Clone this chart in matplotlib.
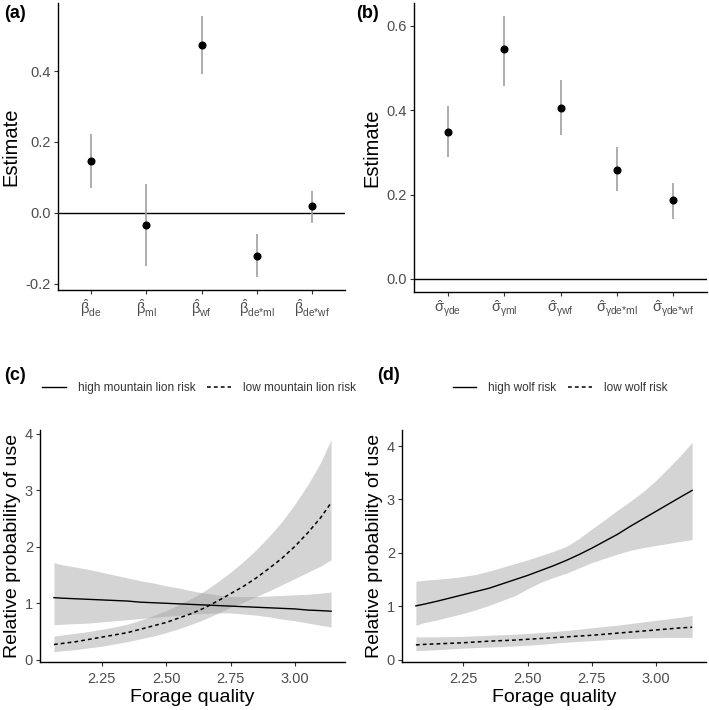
import numpy as np
import matplotlib
matplotlib.use('Agg')
import matplotlib.pyplot as plt
from matplotlib.lines import Line2D

plt.rcParams['font.family'] = ['Liberation Sans', 'DejaVu Sans']
plt.rcParams['mathtext.fontset'] = 'custom'
plt.rcParams['mathtext.rm'] = 'Liberation Sans'
plt.rcParams['mathtext.it'] = 'Liberation Sans:italic'
plt.rcParams['mathtext.bf'] = 'Liberation Sans:bold'

# ---- panel (a): fixed effects
beta_labels = [r'$\hat{\mathrm{β}}_{\mathrm{de}}$', r'$\hat{\mathrm{β}}_{\mathrm{ml}}$',
               r'$\hat{\mathrm{β}}_{\mathrm{wf}}$', r'$\hat{\mathrm{β}}_{\mathrm{de{*}ml}}$',
               r'$\hat{\mathrm{β}}_{\mathrm{de{*}wf}}$']
beta_est = [0.147, -0.035, 0.474, -0.122, 0.018]
beta_lo = [0.070, -0.150, 0.393, -0.181, -0.028]
beta_hi = [0.222, 0.082, 0.555, -0.060, 0.060]

# ---- panel (b): random effect SDs
sigma_labels = [r'$\hat{\mathrm{σ}}_{\mathrm{γde}}$', r'$\hat{\mathrm{σ}}_{\mathrm{γml}}$',
                r'$\hat{\mathrm{σ}}_{\mathrm{γwf}}$', r'$\hat{\mathrm{σ}}_{\mathrm{γde{*}ml}}$',
                r'$\hat{\mathrm{σ}}_{\mathrm{γde{*}wf}}$']
sigma_est = [0.348, 0.545, 0.405, 0.258, 0.186]
sigma_lo = [0.288, 0.458, 0.340, 0.208, 0.143]
sigma_hi = [0.409, 0.623, 0.471, 0.313, 0.227]

# ---- panels (c), (d): predicted relative probability of use
forage = [2.065, 2.10, 2.15, 2.20, 2.25, 2.30, 2.35, 2.40, 2.45, 2.50, 2.55, 2.60,
          2.65, 2.70, 2.75, 2.80, 2.85, 2.90, 2.95, 3.00, 3.05, 3.10, 3.14]

ml_high = [1.10, 1.09, 1.08, 1.07, 1.06, 1.05, 1.04, 1.02, 1.01, 1.00, 0.99, 0.98,
           0.97, 0.96, 0.95, 0.94, 0.93, 0.92, 0.91, 0.90, 0.88, 0.87, 0.86]
ml_high_lo = [0.62, 0.63, 0.64, 0.65, 0.67, 0.69, 0.71, 0.73, 0.75, 0.77, 0.79, 0.81,
              0.82, 0.83, 0.83, 0.81, 0.79, 0.76, 0.72, 0.69, 0.65, 0.61, 0.58]
ml_high_hi = [1.72, 1.68, 1.64, 1.60, 1.55, 1.50, 1.45, 1.40, 1.36, 1.31, 1.27, 1.22,
              1.18, 1.15, 1.12, 1.12, 1.12, 1.13, 1.14, 1.15, 1.16, 1.18, 1.20]
ml_low = [0.27, 0.29, 0.32, 0.36, 0.40, 0.44, 0.48, 0.54, 0.60, 0.66, 0.74, 0.82,
          0.92, 1.04, 1.17, 1.30, 1.45, 1.62, 1.80, 2.01, 2.25, 2.52, 2.78]
ml_low_lo = [0.14, 0.16, 0.18, 0.21, 0.24, 0.28, 0.32, 0.37, 0.42, 0.48, 0.55, 0.63,
             0.72, 0.82, 0.93, 1.02, 1.12, 1.22, 1.33, 1.44, 1.55, 1.66, 1.77]
ml_low_hi = [0.42, 0.44, 0.47, 0.50, 0.54, 0.58, 0.63, 0.70, 0.78, 0.87, 0.98, 1.09,
             1.22, 1.38, 1.55, 1.74, 1.95, 2.19, 2.45, 2.76, 3.10, 3.50, 3.90]

wf_high = [1.01, 1.045, 1.10, 1.16, 1.22, 1.28, 1.34, 1.42, 1.50, 1.58, 1.67, 1.76,
           1.86, 1.97, 2.09, 2.22, 2.35, 2.50, 2.64, 2.78, 2.92, 3.06, 3.17]
wf_high_lo = [0.65, 0.70, 0.75, 0.81, 0.87, 0.94, 1.02, 1.11, 1.20, 1.33, 1.45, 1.54,
              1.62, 1.72, 1.82, 1.90, 1.98, 2.05, 2.10, 2.14, 2.18, 2.22, 2.25]
wf_high_hi = [1.47, 1.49, 1.51, 1.53, 1.56, 1.60, 1.66, 1.73, 1.80, 1.87, 1.95, 2.03,
              2.12, 2.27, 2.45, 2.62, 2.80, 2.97, 3.15, 3.36, 3.60, 3.85, 4.07]
wf_low = [0.28, 0.29, 0.30, 0.31, 0.32, 0.335, 0.35, 0.36, 0.37, 0.385, 0.40, 0.415,
          0.43, 0.445, 0.46, 0.48, 0.50, 0.52, 0.54, 0.56, 0.58, 0.60, 0.61]
wf_low_lo = [0.17, 0.18, 0.19, 0.205, 0.22, 0.23, 0.24, 0.25, 0.26, 0.275, 0.29, 0.31,
             0.33, 0.345, 0.36, 0.375, 0.39, 0.40, 0.41, 0.415, 0.42, 0.42, 0.42]
wf_low_hi = [0.43, 0.43, 0.43, 0.435, 0.44, 0.45, 0.46, 0.47, 0.48, 0.495, 0.51, 0.53,
             0.55, 0.575, 0.60, 0.625, 0.65, 0.68, 0.71, 0.74, 0.77, 0.80, 0.83]

W, H = 709, 710
fig = plt.figure(figsize=(W / 100, H / 100), dpi=100)

def px_axes(left, top, right, bottom):
    return fig.add_axes([left / W, 1 - bottom / H, (right - left) / W, (bottom - top) / H])

def style(ax):
    for s in ['top', 'right']:
        ax.spines[s].set_visible(False)
    for s in ['left', 'bottom']:
        ax.spines[s].set_linewidth(1.0)
        ax.spines[s].set_color('black')
    ax.tick_params(direction='out', length=3, width=0.8, color='#333333',
                   labelcolor='#4d4d4d', labelsize=10.5, pad=2)

def coef_panel(ax, labels, est, lo, hi, ylim, yticks):
    pos = np.arange(1, len(labels) + 1)
    ax.axhline(0, color='black', linewidth=1.0, zorder=1)
    ax.vlines(pos, lo, hi, color='#a0a0a0', linewidth=1.2, zorder=2)
    ax.plot(pos, est, 'o', color='black', markersize=4.8, zorder=3)
    ax.set_xlim(0.4, len(labels) + 0.6)
    ax.set_ylim(*ylim)
    ax.set_yticks(yticks)
    ax.set_yticklabels(['%.1f' % t if t >= 0 else '-%.1f' % abs(t) for t in yticks])
    ax.set_xticks(pos)
    ax.set_xticklabels(labels, fontsize=12.5)
    ax.tick_params(axis='x', pad=4)
    ax.set_ylabel('Estimate', fontsize=14.5, labelpad=4)
    style(ax)

def curve_panel(ax, high, high_lo, high_hi, low, low_lo, low_hi, ylim):
    ax.fill_between(forage, high_lo, high_hi, color='#a0a0a0', alpha=0.45, linewidth=0)
    ax.fill_between(forage, low_lo, low_hi, color='#a0a0a0', alpha=0.45, linewidth=0)
    ax.plot(forage, high, '-', color='black', linewidth=1.0)
    ax.plot(forage, low, color='black', linewidth=1.1, linestyle=(0, (2.5, 2)))
    ax.set_xlim(2.011, 3.194)
    ax.set_ylim(*ylim)
    ax.set_xticks([2.25, 2.50, 2.75, 3.00])
    ax.set_xticklabels(['2.25', '2.50', '2.75', '3.00'])
    ax.set_yticks([0, 1, 2, 3, 4])
    ax.set_xlabel('Forage quality', fontsize=14, labelpad=2)
    ax.set_ylabel('Relative probability of use', fontsize=14, labelpad=3)
    style(ax)
    ax.tick_params(axis='x', pad=4)

ax_a = px_axes(58, 3, 345, 290)
coef_panel(ax_a, beta_labels, beta_est, beta_lo, beta_hi, (-0.218, 0.592), [-0.2, 0.0, 0.2, 0.4])

ax_b = px_axes(414, 3, 707, 292)
coef_panel(ax_b, sigma_labels, sigma_est, sigma_lo, sigma_hi, (-0.031, 0.654), [0.0, 0.2, 0.4, 0.6])

ax_c = px_axes(40, 430, 345, 662)
curve_panel(ax_c, ml_high, ml_high_lo, ml_high_hi, ml_low, ml_low_lo, ml_low_hi, (-0.04, 4.07))

ax_d = px_axes(402, 430, 706, 662)
curve_panel(ax_d, wf_high, wf_high_lo, wf_high_hi, wf_low, wf_low_lo, wf_low_hi, (-0.04, 4.3))

# panel tags
for txt, x, y in [('(a)', 4, 13), ('(b)', 356, 13), ('(c)', 4, 375), ('(d)', 377, 375)]:
    fig.text(x / W, 1 - y / H, txt, fontsize=13, fontweight='bold', va='center', ha='left')

# legends above (c) and (d)
def top_legend(labels, cx, cy):
    handles = [Line2D([], [], color='black', linewidth=1.0),
               Line2D([], [], color='black', linewidth=1.1, linestyle=(0, (2.5, 2)))]
    fig.legend(handles, labels, loc='center', bbox_to_anchor=(cx / W, 1 - cy / H),
               ncol=2, frameon=False, fontsize=8.5, handlelength=2.0,
               handletextpad=1.0, columnspacing=1.0, labelcolor='#333333')

top_legend(['high mountain lion risk', 'low mountain lion risk'], 199, 388)
top_legend(['high wolf risk', 'low wolf risk'], 560, 388)

fig.savefig('out.png', dpi=100)
